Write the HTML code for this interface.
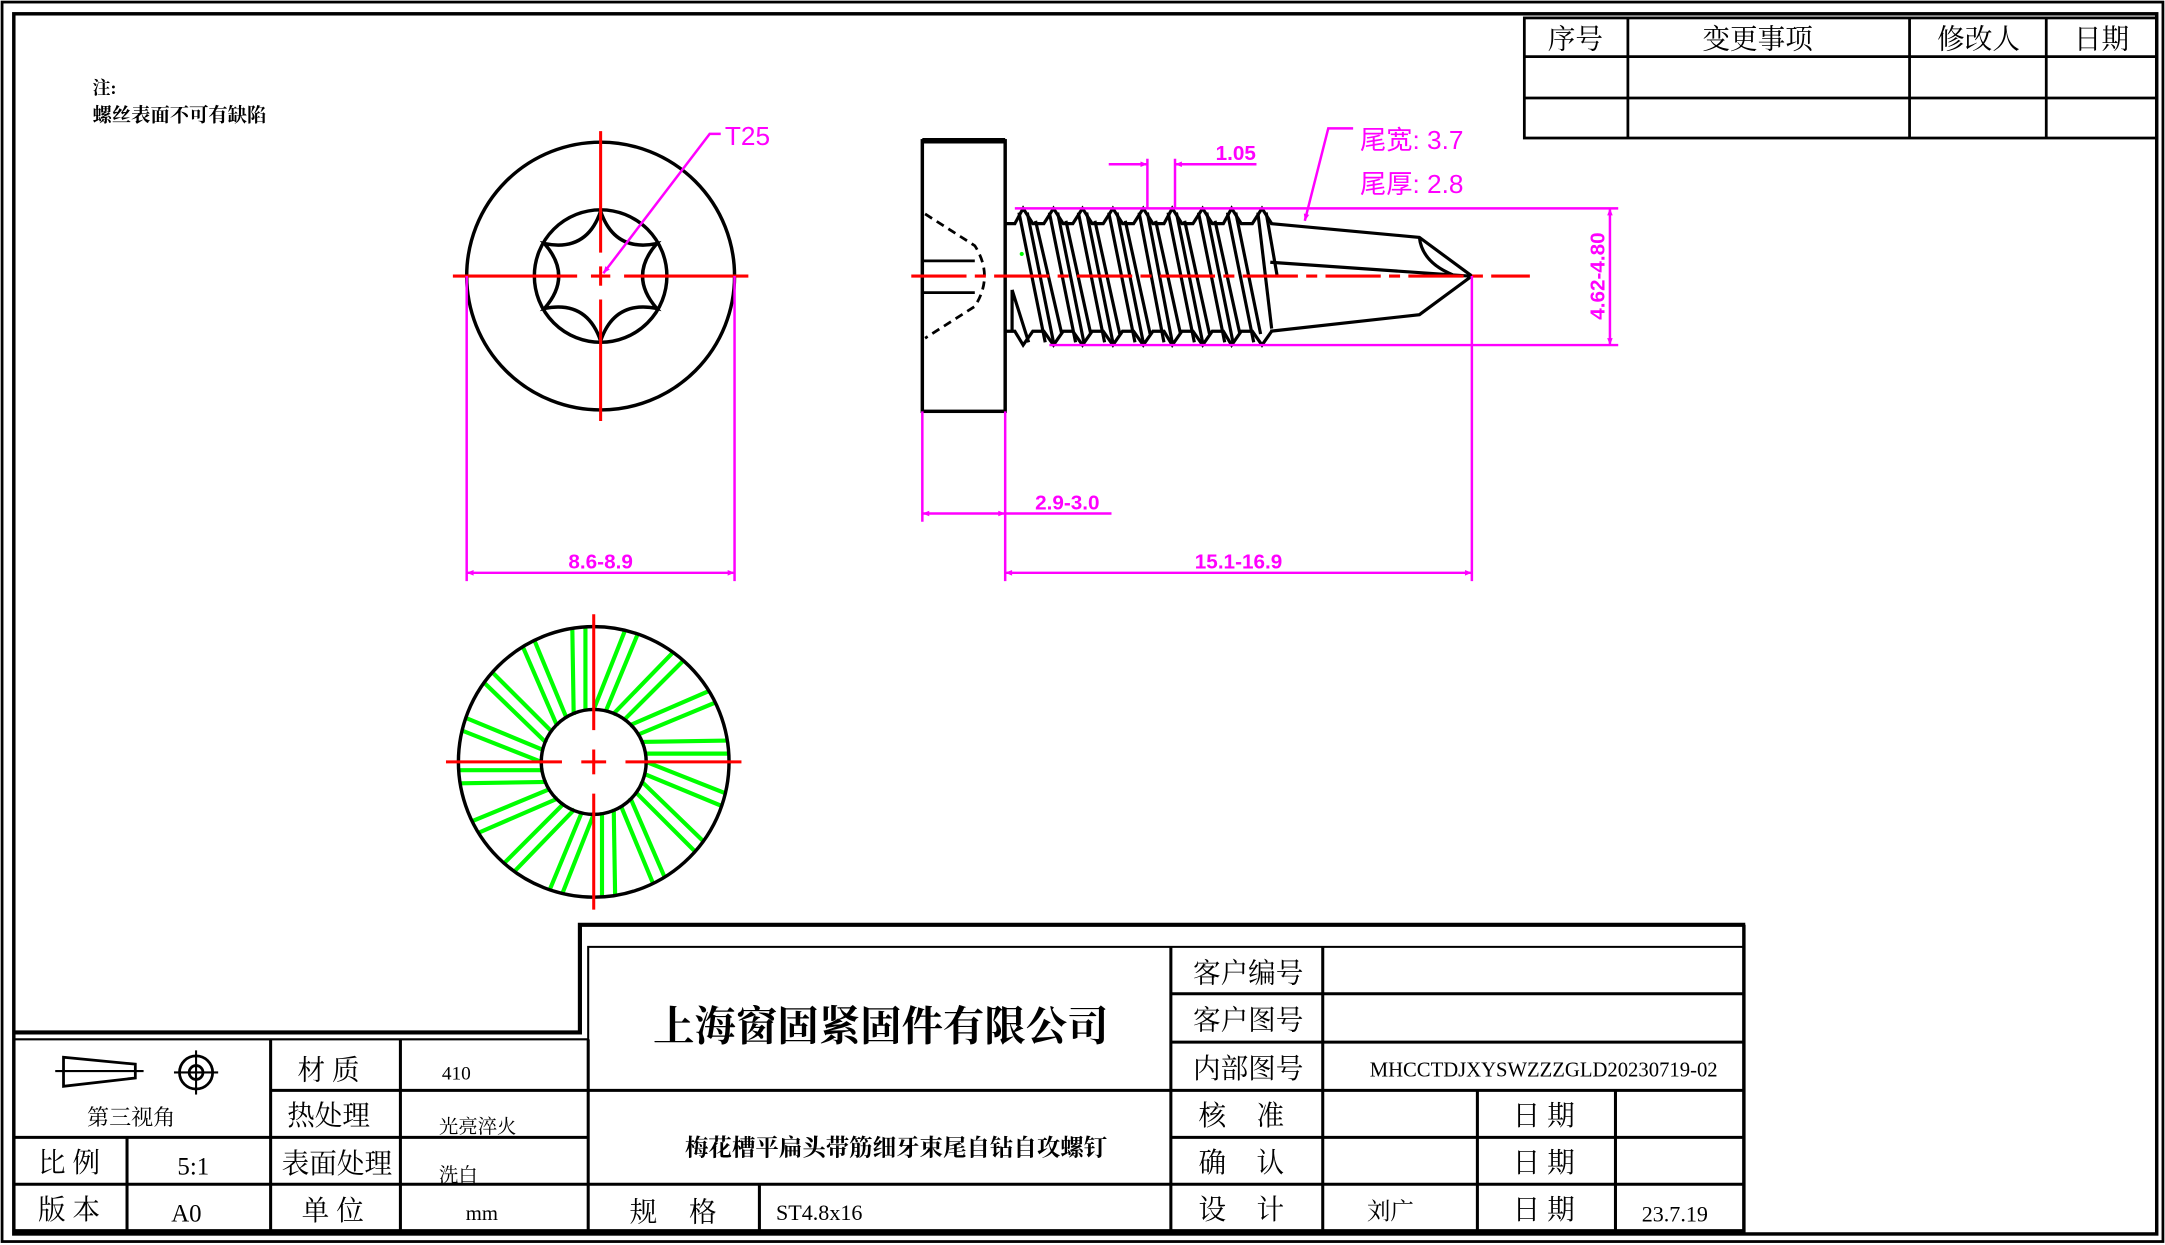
<!DOCTYPE html>
<html><head><meta charset="utf-8"><style>
html,body{margin:0;padding:0;background:#fff;}
svg{display:block;}
.t{font-family:"Liberation Serif","Noto Serif CJK SC","Noto Sans CJK SC",serif;fill:#000;white-space:pre;}
.m{font-family:"Liberation Sans","Noto Sans CJK SC",sans-serif;fill:#f0f;white-space:pre;}
</style></head><body>
<svg width="2165" height="1245" viewBox="0 0 1568 902" preserveAspectRatio="none" xmlns="http://www.w3.org/2000/svg">
<defs>
<marker id="a" viewBox="0 0 10 10" refX="10" refY="5" markerWidth="9" markerHeight="5" orient="auto-start-reverse" markerUnits="userSpaceOnUse"><path d="M0,1 L10,5 L0,9 Z" fill="#f0f"/></marker>
</defs>
<rect x="0" y="0" width="1568" height="902" fill="#fff"/>
<rect x="1.5" y="1.5" width="1565" height="898" fill="none" stroke="#000" stroke-width="2"/>
<rect x="10" y="10" width="1552" height="884" fill="none" stroke="#000" stroke-width="2.5"/>

<g stroke="#000" stroke-width="2" fill="none">
<rect x="1104" y="13" width="458" height="87"/>
<line x1="1104" y1="41" x2="1562" y2="41"/>
<line x1="1104" y1="71" x2="1562" y2="71"/>
<line x1="1179" y1="13" x2="1179" y2="100"/>
<line x1="1383" y1="13" x2="1383" y2="100"/>
<line x1="1482" y1="13" x2="1482" y2="100"/>
</g>
<g class="t" font-size="20" text-anchor="middle">
<text x="1141" y="35">序号</text><text x="1273" y="35">变更事项</text><text x="1433" y="35">修改人</text><text x="1522" y="35">日期</text>
</g>

<text class="t" x="67" y="68" font-size="13" font-weight="bold">注:</text>
<text class="t" x="67" y="88" font-size="14" font-weight="bold">螺丝表面不可有缺陷</text>

<g fill="none" stroke="#000" stroke-width="2.5">
<circle cx="435" cy="200" r="97"/>
<circle cx="435" cy="200" r="48"/>
<path d="M435,153 Q445,182.7 475.7,176.5 Q455,200 475.7,223.5 Q445,217.3 435,247 Q425,217.3 394.3,223.5 Q415,200 394.3,176.5 Q425,182.7 435,153 Z"/>
</g>
<g stroke="#f00" stroke-width="2.2">
<line x1="328" y1="200" x2="418" y2="200"/><line x1="428" y1="200" x2="442" y2="200"/><line x1="452" y1="200" x2="542" y2="200"/>
<line x1="435" y1="95" x2="435" y2="183"/><line x1="435" y1="193" x2="435" y2="207"/><line x1="435" y1="217" x2="435" y2="305"/>
</g>
<g stroke="#f0f" stroke-width="1.8" fill="none">
<polyline points="522,97 514,97 437,198" marker-end="url(#a)"/>
<line x1="338" y1="200" x2="338" y2="421"/><line x1="532" y1="200" x2="532" y2="421"/>
<line x1="338" y1="415" x2="532" y2="415" marker-start="url(#a)" marker-end="url(#a)"/>
</g>
<text class="m" x="525" y="105" font-size="19">T25</text>
<text class="m" x="435" y="412" font-size="15" font-weight="bold" text-anchor="middle">8.6-8.9</text>

<g fill="none" stroke="#000" stroke-width="2.5">
<rect x="668" y="102" width="60" height="196"/>
<line x1="668" y1="102" x2="728" y2="102" stroke-width="4"/>
<path d="M670,155 L706,178 Q720,200 706,222 L670,245" stroke-dasharray="6,4" stroke-width="2"/>
<line x1="668" y1="189" x2="706" y2="189" stroke-width="2"/>
<line x1="668" y1="212" x2="706" y2="212" stroke-width="2"/>
</g>
<g fill="none" stroke="#000" stroke-width="2.3">
<polyline points="728,162 735,162 741,151 748,162 756,162 763,151 770,162 777,162 784,151 791,162 799,162 806,151 813,162 821,162 828,151 835,162 843,162 849,151 856,162 864,162 871,151 878,162 886,162 892,151 899,162 907,162 914,151 921,162"/>
<polyline points="728,240 735,240 741,250 748,240 756,240 763,250 770,240 777,240 784,250 791,240 799,240 806,250 813,240 821,240 828,250 835,240 843,240 849,250 856,240 864,240 871,250 878,240 886,240 892,250 899,240 907,240 914,250 921,240"/>
<line x1="738" y1="154" x2="757" y2="248"/><line x1="744" y1="154" x2="763" y2="248"/><line x1="750" y1="160" x2="769" y2="242"/>
<line x1="760" y1="154" x2="779" y2="248"/><line x1="766" y1="154" x2="785" y2="248"/><line x1="772" y1="160" x2="790" y2="242"/>
<line x1="781" y1="154" x2="800" y2="248"/><line x1="787" y1="154" x2="806" y2="248"/><line x1="793" y1="160" x2="811" y2="242"/>
<line x1="803" y1="154" x2="822" y2="248"/><line x1="809" y1="154" x2="828" y2="248"/><line x1="815" y1="160" x2="833" y2="242"/>
<line x1="825" y1="154" x2="843" y2="248"/><line x1="831" y1="154" x2="849" y2="248"/><line x1="837" y1="160" x2="855" y2="242"/>
<line x1="846" y1="154" x2="865" y2="248"/><line x1="852" y1="154" x2="871" y2="248"/><line x1="858" y1="160" x2="876" y2="242"/>
<line x1="868" y1="154" x2="887" y2="248"/><line x1="874" y1="154" x2="893" y2="248"/><line x1="880" y1="160" x2="898" y2="242"/>
<line x1="889" y1="154" x2="908" y2="248"/><line x1="895" y1="154" x2="913" y2="242"/>
<line x1="911" y1="154" x2="921" y2="238"/><line x1="917" y1="154" x2="925" y2="200"/>
<path d="M733,210 L745,248 M733,210 L733,240"/>
<polyline points="920,162 1028,172 1066,200 1028,228 920,240"/>
<line x1="920" y1="190" x2="1064" y2="200"/>
<path d="M1028,172 Q1030,190 1052,199"/>
</g>
<line x1="660" y1="200" x2="1108" y2="200" stroke="#f00" stroke-width="2.2" stroke-dasharray="40,6,8,6"/>
<circle cx="740" cy="184" r="1.5" fill="#0f0"/>
<g stroke="#f0f" stroke-width="1.8" fill="none">
<line x1="735" y1="151" x2="1172" y2="151"/>
<line x1="760" y1="250" x2="1172" y2="250"/>
<line x1="1166" y1="151" x2="1166" y2="250" marker-start="url(#a)" marker-end="url(#a)"/>
<line x1="831" y1="115" x2="831" y2="151"/><line x1="851" y1="115" x2="851" y2="151"/>
<line x1="803" y1="119" x2="831" y2="119" marker-end="url(#a)"/>
<line x1="910" y1="119" x2="851" y2="119" marker-end="url(#a)"/>
<polyline points="980,93 962,93 945,160" marker-end="url(#a)"/>
<line x1="668" y1="298" x2="668" y2="378"/><line x1="728" y1="298" x2="728" y2="421"/>
<line x1="728" y1="372" x2="668" y2="372" marker-start="url(#a)" marker-end="url(#a)"/>
<line x1="728" y1="372" x2="805" y2="372"/>
<line x1="1066" y1="200" x2="1066" y2="421"/>
<line x1="728" y1="415" x2="1066" y2="415" marker-start="url(#a)" marker-end="url(#a)"/>
</g>
<text class="m" x="895" y="116" font-size="15" font-weight="bold" text-anchor="middle">1.05</text>
<text class="m" x="985" y="108" font-size="19">尾宽: 3.7</text>
<text class="m" x="985" y="140" font-size="19">尾厚: 2.8</text>
<text class="m" x="773" y="369" font-size="15" font-weight="bold" text-anchor="middle">2.9-3.0</text>
<text class="m" x="897" y="412" font-size="15" font-weight="bold" text-anchor="middle">15.1-16.9</text>
<text class="m" x="0" y="0" font-size="15" font-weight="bold" text-anchor="middle" transform="translate(1162,200) rotate(-90)">4.62-4.80</text>

<g transform="translate(430,552)">
<g stroke="#0f0" stroke-width="3">
<g id="sp"><line x1="36.5" y1="-6" x2="97.8" y2="-6"/><line x1="34" y1="-14.5" x2="96.9" y2="-15.5"/></g>
<use href="#sp" transform="rotate(22.5)"/><use href="#sp" transform="rotate(45)"/><use href="#sp" transform="rotate(67.5)"/>
<use href="#sp" transform="rotate(90)"/><use href="#sp" transform="rotate(112.5)"/><use href="#sp" transform="rotate(135)"/>
<use href="#sp" transform="rotate(157.5)"/><use href="#sp" transform="rotate(180)"/><use href="#sp" transform="rotate(202.5)"/>
<use href="#sp" transform="rotate(225)"/><use href="#sp" transform="rotate(247.5)"/><use href="#sp" transform="rotate(270)"/>
<use href="#sp" transform="rotate(292.5)"/><use href="#sp" transform="rotate(315)"/><use href="#sp" transform="rotate(337.5)"/>
</g>
<circle r="98" fill="none" stroke="#000" stroke-width="2.5"/>
<circle r="38" fill="none" stroke="#000" stroke-width="2.5"/>
<g stroke="#f00" stroke-width="2.2">
<line x1="-107" y1="0" x2="-23" y2="0"/><line x1="-9" y1="0" x2="9" y2="0"/><line x1="23" y1="0" x2="107" y2="0"/>
<line x1="0" y1="-107" x2="0" y2="-23"/><line x1="0" y1="-9" x2="0" y2="9"/><line x1="0" y1="23" x2="0" y2="107"/>
</g>
</g>

<g stroke="#000" fill="none">
<polyline points="10,748 420,748 420,670 1264,670" stroke-width="3"/>
<polyline points="10,753 426,753 426,686 1264,686" stroke-width="1.5"/>
<line x1="1263" y1="670" x2="1263" y2="893" stroke-width="2.5"/>
<g stroke-width="2.2">
<line x1="196" y1="790" x2="426" y2="790"/>
<line x1="10" y1="824" x2="426" y2="824"/>
<line x1="10" y1="858" x2="848" y2="858"/>
<line x1="10" y1="892" x2="1263" y2="892" stroke-width="3"/>
<line x1="92" y1="824" x2="92" y2="892"/>
<line x1="196" y1="753" x2="196" y2="892"/>
<line x1="290" y1="753" x2="290" y2="892"/>
<line x1="426" y1="753" x2="426" y2="892"/>
<line x1="426" y1="790" x2="1263" y2="790"/>
<line x1="550" y1="858" x2="550" y2="892"/>
<line x1="848" y1="686" x2="848" y2="892"/>
<line x1="958" y1="686" x2="958" y2="892"/>
<line x1="1070" y1="790" x2="1070" y2="892"/>
<line x1="1170" y1="790" x2="1170" y2="892"/>
<line x1="848" y1="720" x2="1263" y2="720"/>
<line x1="848" y1="755" x2="1263" y2="755"/>
<line x1="848" y1="824" x2="1263" y2="824"/>
<line x1="848" y1="858" x2="1263" y2="858"/>
</g>
<g stroke-width="2">
<polygon points="46,766 98,771 98,781 46,787"/>
<line x1="40" y1="776" x2="104" y2="776" stroke-width="1.5"/>
<circle cx="142" cy="777" r="12"/><circle cx="142" cy="777" r="5"/>
<line x1="126" y1="777" x2="158" y2="777" stroke-width="1.5"/><line x1="142" y1="761" x2="142" y2="793" stroke-width="1.5"/>
</g>
</g>
<g class="t">
<text x="95" y="815" font-size="16" text-anchor="middle">第三视角</text>
<text x="238" y="782" font-size="20" text-anchor="middle">材 质</text>
<text x="320" y="782" font-size="14">410</text>
<text x="238" y="815" font-size="20" text-anchor="middle">热处理</text>
<text x="318" y="821" font-size="14">光亮淬火</text>
<text x="50" y="849" font-size="20" text-anchor="middle">比 例</text>
<text x="140" y="851" font-size="18" text-anchor="middle">5:1</text>
<text x="244" y="850" font-size="20" text-anchor="middle">表面处理</text>
<text x="318" y="856" font-size="14">洗白</text>
<text x="50" y="883" font-size="20" text-anchor="middle">版 本</text>
<text x="135" y="885" font-size="18" text-anchor="middle">A0</text>
<text x="241" y="884" font-size="20" text-anchor="middle">单 位</text>
<text x="349" y="884" font-size="15" text-anchor="middle">mm</text>
<text x="638" y="754" font-size="30" font-weight="bold" text-anchor="middle">上海窗固紧固件有限公司</text>
<text x="649" y="837" font-size="17" font-weight="bold" text-anchor="middle">梅花槽平扁头带筋细牙束尾自钻自攻螺钉</text>
<text x="456" y="885" font-size="20">规</text><text x="499" y="885" font-size="20">格</text>
<text x="562" y="884" font-size="16">ST4.8x16</text>
<text x="904" y="712" font-size="20" text-anchor="middle">客户编号</text>
<text x="904" y="746" font-size="20" text-anchor="middle">客户图号</text>
<text x="904" y="781" font-size="20" text-anchor="middle">内部图号</text>
<text x="1118" y="780" font-size="15" text-anchor="middle" textLength="252" lengthAdjust="spacingAndGlyphs">MHCCTDJXYSWZZZGLD20230719-02</text>
<text x="868" y="815" font-size="20">核</text><text x="910" y="815" font-size="20">准</text>
<text x="868" y="849" font-size="20">确</text><text x="910" y="849" font-size="20">认</text>
<text x="868" y="883" font-size="20">设</text><text x="910" y="883" font-size="20">计</text>
<text x="1118" y="815" font-size="20" text-anchor="middle">日 期</text>
<text x="1118" y="849" font-size="20" text-anchor="middle">日 期</text>
<text x="1118" y="883" font-size="20" text-anchor="middle">日 期</text>
<text x="1007" y="883" font-size="17" text-anchor="middle">刘广</text>
<text x="1213" y="885" font-size="16" text-anchor="middle">23.7.19</text>
</g>
</svg>
</body></html>
